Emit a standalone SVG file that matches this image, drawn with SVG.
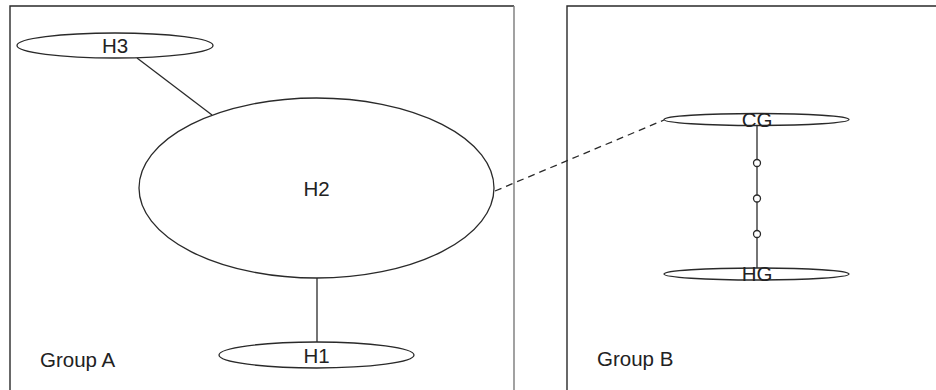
<svg xmlns="http://www.w3.org/2000/svg" width="936" height="390" viewBox="0 0 936 390">
  <style>
    .frame { fill: none; stroke: #2a2a2a; stroke-width: 1.4; }
    .node { fill: #ffffff; stroke: #2a2a2a; stroke-width: 1.3; }
    .edge { fill: none; stroke: #2a2a2a; stroke-width: 1.3; }
    .dashed { stroke-dasharray: 7 5; }
    .dot { fill: #ffffff; stroke: #2a2a2a; stroke-width: 1.3; }
    .label { font-family: "Liberation Sans", Arial, sans-serif; font-size: 20.5px; fill: #222222; text-anchor: middle; }
    .group-label { font-family: "Liberation Sans", Arial, sans-serif; font-size: 20.5px; fill: #222222; }
  </style>

  <rect width="936" height="390" fill="#ffffff"/>

  <!-- group frames (open at bottom / right) -->
  <g id="group-a">
    <path class="frame" d="M10,390 V6 H514"/>
    <path d="M514,6 V390" fill="none" stroke="#7a7a7a" stroke-width="1.4"/>
    <text class="group-label" x="40" y="367">Group A</text>
  </g>
  <g id="group-b">
    <path class="frame" d="M567,390 V6 H936"/>
    <text class="group-label" x="597" y="366">Group B</text>
  </g>

  <!-- connectors -->
  <g id="connectors">
    <line class="edge" x1="137" y1="58" x2="212" y2="115"/>
    <line class="edge" x1="317" y1="278" x2="317" y2="342"/>
    <line class="edge dashed" x1="495" y1="191" x2="664" y2="120"/>
    <line class="edge" x1="757" y1="125" x2="757" y2="268"/>
    <circle class="dot" cx="757" cy="163" r="3.5"/>
    <circle class="dot" cx="757" cy="198.5" r="3.5"/>
    <circle class="dot" cx="757" cy="234" r="3.5"/>
  </g>

  <!-- nodes -->
  <g id="H3">
    <ellipse class="node" cx="115" cy="45.5" rx="98" ry="12.5"/>
    <text class="label" x="115" y="53">H3</text>
  </g>
  <g id="H2">
    <ellipse class="node" cx="316.5" cy="188" rx="177.5" ry="90"/>
    <text class="label" x="316.5" y="196">H2</text>
  </g>
  <g id="H1">
    <ellipse class="node" cx="316.5" cy="355" rx="97.5" ry="13"/>
    <text class="label" x="316.5" y="363">H1</text>
  </g>
  <g id="CG">
    <ellipse class="node" cx="756.5" cy="119.5" rx="92.5" ry="6"/>
    <text class="label" x="757" y="127">CG</text>
  </g>
  <g id="HG">
    <ellipse class="node" cx="756.5" cy="274" rx="92.5" ry="6"/>
    <text class="label" x="757" y="281">HG</text>
  </g>
</svg>
